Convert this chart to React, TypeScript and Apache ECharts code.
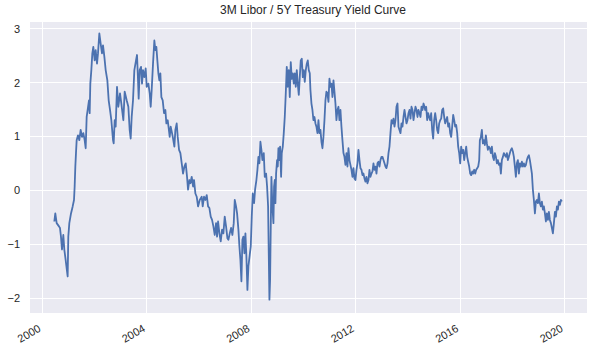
import React, { useEffect, useRef } from "react";
import * as echarts from "echarts";

const TITLE = "3M Libor / 5Y Treasury Yield Curve";
const X_TICKS = [2000, 2004, 2008, 2012, 2016, 2020];
const Y_TICKS = [-2, -1, 0, 1, 2, 3];

const years = [
  2000.461, 2000.499, 2000.551, 2000.640, 2000.678, 2000.716, 2000.755, 2000.806, 2000.844, 2000.895,
  2000.972, 2000.997, 2001.036, 2001.100, 2001.164, 2001.215, 2001.240, 2001.266, 2001.291, 2001.317,
  2001.368, 2001.419, 2001.470, 2001.521, 2001.572, 2001.623, 2001.662, 2001.700, 2001.738, 2001.789,
  2001.815, 2001.840, 2001.879, 2001.917, 2001.955, 2002.006, 2002.045, 2002.096, 2002.134, 2002.185,
  2002.236, 2002.287, 2002.326, 2002.377, 2002.428, 2002.492, 2002.543, 2002.594, 2002.645, 2002.709,
  2002.734, 2002.773, 2002.811, 2002.862, 2002.913, 2002.977, 2003.028, 2003.105, 2003.156,
  2003.232, 2003.296, 2003.347, 2003.386, 2003.424, 2003.475, 2003.526, 2003.590, 2003.628, 2003.667,
  2003.692, 2003.731, 2003.782, 2003.820, 2003.858, 2003.909, 2003.961, 2003.999, 2004.063, 2004.114,
  2004.152, 2004.190, 2004.241, 2004.292, 2004.331, 2004.369, 2004.407, 2004.446, 2004.484, 2004.522,
  2004.561, 2004.612, 2004.663, 2004.714, 2004.752, 2004.803, 2004.842, 2004.880, 2004.918, 2004.969,
  2005.008, 2005.059, 2005.097, 2005.148, 2005.187, 2005.238, 2005.289, 2005.340, 2005.391, 2005.442,
  2005.493, 2005.544, 2005.582, 2005.633, 2005.672, 2005.723, 2005.774, 2005.812, 2005.863, 2005.914,
  2005.966, 2006.030,
  2006.106, 2006.144, 2006.195, 2006.246, 2006.298, 2006.349, 2006.400, 2006.451, 2006.502, 2006.553,
  2006.604, 2006.655, 2006.693, 2006.732, 2006.783, 2006.834, 2006.885, 2006.936, 2006.987, 2007.038,
  2007.089, 2007.128, 2007.179, 2007.230, 2007.281, 2007.332, 2007.371, 2007.421, 2007.460, 2007.511,
  2007.549, 2007.587, 2007.626, 2007.664, 2007.702, 2007.741, 2007.779, 2007.817, 2007.856, 2007.894,
  2007.945, 2007.984, 2008.022, 2008.060, 2008.111, 2008.149, 2008.200, 2008.239, 2008.277, 2008.315,
  2008.354, 2008.392, 2008.430, 2008.482, 2008.520, 2008.571, 2008.609, 2008.648, 2008.673, 2008.699,
  2008.724, 2008.750, 2008.775, 2008.813, 2008.852, 2008.877, 2008.903,
  2008.928, 2008.954, 2008.992, 2009.018, 2009.043, 2009.082, 2009.107, 2009.146, 2009.171, 2009.210,
  2009.248, 2009.286, 2009.325, 2009.363, 2009.401, 2009.439, 2009.478, 2009.516, 2009.554, 2009.593,
  2009.631, 2009.669, 2009.708, 2009.746, 2009.784, 2009.823, 2009.861, 2009.899, 2009.938, 2009.976,
  2010.014, 2010.052, 2010.091, 2010.129, 2010.167, 2010.206, 2010.244, 2010.269, 2010.308, 2010.346,
  2010.384, 2010.423, 2010.461, 2010.499, 2010.538, 2010.576, 2010.614, 2010.652, 2010.691, 2010.729,
  2010.767, 2010.806, 2010.844, 2010.882, 2010.921, 2010.959, 2010.997, 2011.036, 2011.074, 2011.112,
  2011.151, 2011.189, 2011.227, 2011.265, 2011.304, 2011.342, 2011.380, 2011.419, 2011.457, 2011.495,
  2011.534, 2011.572, 2011.610, 2011.649, 2011.687, 2011.725, 2011.764,
  2011.789, 2011.840, 2011.879, 2011.917, 2011.955, 2011.994, 2012.032, 2012.070, 2012.108, 2012.147,
  2012.185, 2012.223, 2012.262, 2012.300, 2012.338, 2012.377, 2012.415, 2012.453, 2012.492, 2012.530,
  2012.568, 2012.607, 2012.645, 2012.683, 2012.721, 2012.760, 2012.798, 2012.836, 2012.875, 2012.913,
  2012.951, 2012.990, 2013.028, 2013.066, 2013.105, 2013.143, 2013.181, 2013.220, 2013.258, 2013.296,
  2013.334, 2013.373, 2013.411, 2013.449, 2013.488, 2013.526, 2013.564, 2013.603, 2013.641, 2013.679,
  2013.718, 2013.756, 2013.794, 2013.833, 2013.871, 2013.909, 2013.947, 2013.986, 2014.024, 2014.062,
  2014.101, 2014.139, 2014.177, 2014.216, 2014.254, 2014.292, 2014.331, 2014.369, 2014.407, 2014.446,
  2014.484, 2014.522, 2014.561, 2014.599, 2014.637,
  2014.663, 2014.701, 2014.740, 2014.778, 2014.816, 2014.854, 2014.893, 2014.931, 2014.969, 2015.008,
  2015.046, 2015.084, 2015.123, 2015.161, 2015.199, 2015.238, 2015.276, 2015.314, 2015.352, 2015.391,
  2015.429, 2015.467, 2015.506, 2015.544, 2015.582, 2015.621, 2015.659, 2015.697, 2015.736, 2015.774,
  2015.812, 2015.851, 2015.889, 2015.927, 2015.966, 2016.004, 2016.042, 2016.080, 2016.119, 2016.157,
  2016.195, 2016.234, 2016.272, 2016.310, 2016.349, 2016.387, 2016.425, 2016.464, 2016.502, 2016.540,
  2016.579, 2016.617, 2016.655, 2016.693, 2016.732, 2016.757, 2016.796, 2016.834, 2016.872, 2016.911,
  2016.949, 2016.987, 2017.026, 2017.064, 2017.102, 2017.141, 2017.179, 2017.217, 2017.256, 2017.294,
  2017.332, 2017.371, 2017.409, 2017.447, 2017.485, 2017.524,
  2017.562, 2017.600, 2017.639, 2017.677, 2017.715, 2017.754, 2017.792, 2017.830, 2017.868, 2017.907,
  2017.945, 2017.983, 2018.022, 2018.060, 2018.098, 2018.137, 2018.175, 2018.213, 2018.252, 2018.290,
  2018.328, 2018.367, 2018.405, 2018.443, 2018.482, 2018.520, 2018.558, 2018.597, 2018.635, 2018.673,
  2018.711, 2018.750, 2018.788, 2018.826, 2018.865, 2018.903, 2018.941, 2018.980, 2019.018, 2019.056,
  2019.095, 2019.133, 2019.171, 2019.209, 2019.248, 2019.286, 2019.324, 2019.363, 2019.401, 2019.439,
  2019.478, 2019.516, 2019.554, 2019.593, 2019.631, 2019.669, 2019.708, 2019.746, 2019.784, 2019.823,
  2019.861, 2019.899,
];

const spread = [
  -0.58, -0.43, -0.61, -0.67, -0.70, -0.86, -1.10, -0.83, -1.10, -1.29,
  -1.60, -0.86, -0.61, -0.43, -0.30, -0.18, 0.07, 0.44, 0.69, 0.93,
  1.02, 0.93, 1.12, 0.99, 1.06, 0.93, 0.78, 1.36, 1.49, 1.67,
  1.43, 1.98, 2.23, 2.54, 2.66, 2.41, 2.60, 2.35, 2.54, 2.91,
  2.72, 2.54, 2.69, 2.48, 2.23, 2.04, 1.67, 1.49, 1.30, 0.93,
  0.87, 1.30, 1.18, 1.92, 1.55, 1.80, 1.61, 1.30, 1.83,
  1.67, 1.55, 1.12, 0.96, 1.36, 1.67, 2.23, 2.41, 2.51, 2.04,
  1.70, 2.23, 2.29, 1.98, 2.23, 2.10, 2.26, 1.92, 1.98, 1.80,
  1.55, 1.86, 2.35, 2.78, 2.60, 2.66, 2.41, 2.17, 2.04, 2.17,
  1.73, 1.67, 1.43, 1.49, 1.24, 1.30, 1.15, 0.99, 1.18, 1.06,
  0.96, 0.81, 1.12, 1.24, 0.99, 0.75, 0.69, 0.50, 0.31, 0.44,
  0.50, 0.25, 0.01, 0.19, 0.13, 0.25, 0.07, 0.19, -0.06, -0.12,
  -0.30, -0.18,
  -0.12, -0.30, -0.12, -0.18, -0.09, -0.30, -0.33, -0.49, -0.55, -0.67,
  -0.83, -0.61, -0.86, -0.58, -0.80, -0.95, -0.73, -0.80, -0.49, -0.67,
  -0.89, -0.92, -0.80, -0.70, -0.83, -0.61, -0.18, -0.30, -0.43, -0.73,
  -1.04, -1.29, -1.69, -0.92, -0.86, -1.17, -0.80, -1.23, -1.85, -1.41,
  -1.20, -1.04, -0.49, -0.06, -0.24, 0.01, 0.19, 0.38, 0.62, 0.50,
  0.90, 0.75, 0.56, 0.69, 0.25, 0.31, 0.07, -0.30, -1.17, -2.03,
  -1.66, -0.67, 0.25, -0.30, -0.61, 0.07, 0.19,
  -0.24, 0.31, 0.56, 0.44, 0.78, 0.56, 0.81, 0.25, 0.69, 0.81,
  1.06, 1.36, 1.80, 2.29, 1.92, 2.23, 1.73, 2.38, 2.07, 2.17,
  1.98, 2.17, 1.92, 2.23, 1.98, 1.77, 2.10, 2.41, 2.44, 2.10,
  2.23, 2.01, 2.23, 2.35, 2.41, 2.23, 2.17, 1.86, 1.61, 1.49,
  1.30, 1.36, 1.24, 1.18, 1.06, 1.30, 1.06, 1.12, 0.90, 0.78,
  0.99, 1.30, 1.67, 1.83, 1.80, 1.64, 2.07, 1.92, 1.98, 1.73,
  2.04, 1.83, 1.61, 1.30, 1.49, 1.55, 1.30, 1.49, 1.18, 0.93,
  0.69, 0.62, 0.47, 0.69, 0.44, 0.78, 0.56,
  0.50, 0.38, 0.25, 0.41, 0.22, 0.19, 0.38, 0.50, 0.75, 0.56,
  0.41, 0.38, 0.28, 0.31, 0.22, 0.16, 0.25, 0.13, 0.19, 0.38,
  0.25, 0.31, 0.35, 0.50, 0.38, 0.44, 0.31, 0.50, 0.53, 0.44,
  0.56, 0.62, 0.62, 0.56, 0.50, 0.44, 0.41, 0.50, 0.69, 0.81,
  1.06, 1.30, 1.24, 1.33, 1.18, 1.30, 1.55, 1.61, 1.18, 1.12,
  1.06, 1.24, 1.18, 1.36, 1.49, 1.36, 1.24, 1.30, 1.43, 1.49,
  1.33, 1.55, 1.49, 1.30, 1.43, 1.55, 1.49, 1.36, 1.49, 1.43,
  1.36, 1.55, 1.49, 1.61, 1.55,
  1.49, 1.55, 1.30, 1.43, 1.36, 1.30, 1.43, 1.12, 0.96, 1.30,
  1.43, 1.30, 1.12, 1.06, 1.24, 1.30, 1.33, 1.49, 1.52, 1.36,
  1.24, 1.30, 1.36, 1.18, 1.24, 1.06, 0.99, 1.18, 1.40, 1.30,
  1.18, 1.21, 1.06, 0.81, 0.69, 0.50, 0.81, 0.69, 0.75, 0.56,
  0.69, 0.81, 0.62, 0.53, 0.44, 0.31, 0.28, 0.35, 0.31, 0.38,
  0.31, 0.38, 0.41, 0.44, 0.56, 0.93, 0.99, 1.12, 0.87, 0.93,
  0.84, 1.02, 0.87, 0.75, 0.81, 0.78, 0.69, 0.81, 0.62, 0.56,
  0.69, 0.62, 0.50, 0.56, 0.47, 0.50,
  0.31, 0.56, 0.62, 0.69, 0.65, 0.62, 0.69, 0.56, 0.62, 0.69,
  0.75, 0.78, 0.72, 0.62, 0.44, 0.25, 0.50, 0.56, 0.31, 0.50,
  0.44, 0.53, 0.44, 0.50, 0.44, 0.47, 0.56, 0.62, 0.65, 0.56,
  0.44, 0.31, 0.01, -0.18, -0.43, -0.21, -0.18, -0.24, -0.06, -0.24,
  -0.30, -0.21, -0.36, -0.30, -0.43, -0.58, -0.43, -0.55, -0.40, -0.55,
  -0.61, -0.70, -0.80, -0.61, -0.40, -0.49, -0.30, -0.36, -0.21, -0.27,
  -0.18, -0.21,
];

const FONT = "'Liberation Sans', Arial, sans-serif";
const TEXT = "#262626";

export default function App() {
  const ref = useRef<HTMLDivElement>(null);
  useEffect(() => {
    if (!ref.current) return;
    const chart = echarts.init(ref.current, null, { renderer: "svg" });
    const n = Math.min(years.length, spread.length);
    const data: number[][] = [];
    for (let i = 0; i < n; i++) data.push([years[i], spread[i]]);
    chart.setOption({
      animation: false,
      backgroundColor: "#ffffff",
      textStyle: { fontFamily: FONT },
      title: {
        text: TITLE,
        left: 308,
        top: -1,
        textAlign: "center",
        textStyle: { fontSize: 12, fontWeight: "normal", color: TEXT, fontFamily: FONT },
      },
      grid: {
        left: 30,
        right: 13,
        top: 22,
        bottom: 39,
        show: true,
        backgroundColor: "#EAEAF2",
        borderWidth: 0,
        containLabel: false,
        outerBoundsMode: "none",
      },
      xAxis: {
        type: "value",
        min: 1999.53,
        max: 2020.86,
        axisLine: { show: false },
        axisTick: { show: false, customValues: X_TICKS },
        splitLine: { show: true, lineStyle: { color: "#ffffff", width: 1 } },
        axisLabel: {
          customValues: X_TICKS,
          rotate: 30,
          margin: 19,
          verticalAlign: "bottom",
          fontSize: 11,
          color: TEXT,
          fontFamily: FONT,
          formatter: (v: number) => String(Math.round(v)),
        },
      },
      yAxis: {
        type: "value",
        min: -2.278,
        max: 3.123,
        axisLine: { show: false },
        axisTick: { show: false, customValues: Y_TICKS },
        splitLine: { show: true, lineStyle: { color: "#ffffff", width: 1 } },
        axisLabel: {
          customValues: Y_TICKS,
          margin: 10,
          fontSize: 11,
          color: TEXT,
          fontFamily: FONT,
          formatter: (v: number) => (v < 0 ? "\u2212" + Math.abs(Math.round(v)) : String(Math.round(v))),
        },
      },
      series: [
        {
          type: "line",
          data,
          showSymbol: false,
          symbol: "none",
          lineStyle: { color: "#4C72B0", width: 1.8, join: "round" },
          itemStyle: { color: "#4C72B0" },
          z: 3,
        },
      ],
    });
    return () => chart.dispose();
  }, []);
  return (
    <div
      ref={ref}
      style={{ position: "absolute", left: 0, top: 0, width: 600, height: 352 }}
    />
  );
}
